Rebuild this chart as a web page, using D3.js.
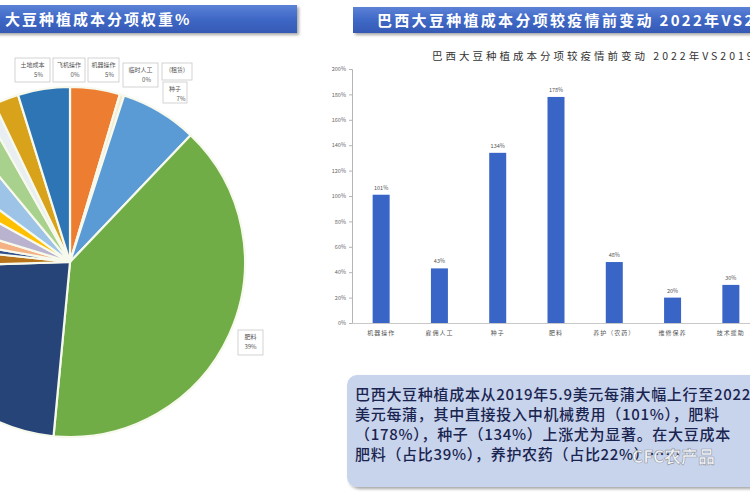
<!DOCTYPE html>
<html><head><meta charset="utf-8">
<script src="https://cdn.jsdelivr.net/npm/d3@7"></script>
<style>
body{margin:0;background:#fff;}
svg{display:block;}
text{font-family:"Noto Sans CJK SC","Noto Sans",sans-serif;}
</style></head>
<body>
<svg id="c" width="750" height="500"></svg>
<script>
// ---------- data ----------
const pieNames  = ["机器操作","临时人工","种子","肥料","养护农药","折旧","保险","运输","技术援助","维修保养","税费","仓储","飞机操作","其他","土地成本"];
const pieValues = [4.6,0.4,7.1,39.4,23.0,2.2,1.1,1.9,3.3,2.1,3.9,2.8,1.1,2.3,4.8];
const pieColors = ["#ED7D31","#F3EAD0","#5B9BD5","#70AD47","#264478","#B8741A","#2F4F8F","#F4B183","#B9B3CF","#FFC000","#9DC3E6","#A9D18E","#E8EEF2","#D9A21B","#2E75B6"];

const barCats   = ["机器操作","雇佣人工","种子","肥料","养护（农药）","维修保养","技术援助"];
const barValues = [101,43,134,178,48,20,30];
const barTicks  = [0,20,40,60,80,100,120,140,160,180,200];

const pieCallouts = [
  {t1:"土地成本", t2:"5%"},
  {t1:"飞机操作", t2:"0%"},
  {t1:"机器操作", t2:"5%"},
  {t1:"临时人工", t2:"0%"},
  {t1:"(租赁)",   t2:""},
  {t1:"种子",     t2:"7%"},
  {t1:"肥料",     t2:"39%"}
];
const noteLines = [
  "巴西大豆种植成本从2019年5.9美元每蒲大幅上行至2022年10.6",
  "美元每蒲，其中直接投入中机械费用（101%），肥料",
  "（178%），种子（134%）上涨尤为显著。在大豆成本",
  "肥料（占比39%），养护农药（占比22%）……"
];

const svg = d3.select("#c");
const defs = svg.append("defs");
const f = defs.append("filter").attr("id","sh").attr("x","-5%").attr("y","-20%").attr("width","115%").attr("height","160%");
f.append("feDropShadow").attr("dx",2).attr("dy",2).attr("stdDeviation",1.5).attr("flood-color","#000").attr("flood-opacity",0.35);
const g1 = defs.append("linearGradient").attr("id","hdr").attr("x1",0).attr("y1",0).attr("x2",0).attr("y2",1);
g1.append("stop").attr("offset","0%").attr("stop-color","#5b82d6");
g1.append("stop").attr("offset","50%").attr("stop-color","#3f68c6");
g1.append("stop").attr("offset","100%").attr("stop-color","#3559b4");

// ---------- headers ----------
svg.append("rect").attr("x",-5).attr("y",5).attr("width",302).attr("height",28).attr("fill","url(#hdr)").attr("filter","url(#sh)");
svg.append("text").attr("x",5).attr("y",25).attr("fill","#fff").attr("font-size",15).attr("font-weight","bold")
  .attr("letter-spacing",2).text("大豆种植成本分项权重%");
svg.append("rect").attr("x",353).attr("y",7).attr("width",410).attr("height",26).attr("fill","url(#hdr)").attr("filter","url(#sh)");
svg.append("text").attr("x",377).attr("y",26).attr("fill","#fff").attr("font-size",15).attr("font-weight","bold")
  .attr("letter-spacing",2.3).text("巴西大豆种植成本分项较疫情前变动 2022年VS2019年");

// ---------- pie ----------
const cx = 70, cy = 262, R = 175;
const pie = d3.pie().sort(null).value(d => d)(pieValues);
const arc = d3.arc().innerRadius(0).outerRadius(R);
const pg = svg.append("g").attr("transform",`translate(${cx},${cy})`);
pg.selectAll("path").data(pie).join("path")
  .attr("d",arc).attr("fill",(d,i)=>pieColors[i])
  .attr("stroke","#f6f9ec").attr("stroke-width",2.2).attr("stroke-linejoin","round");

// callout boxes
const boxPos = [[15,58,35,24],[53,58,32,24],[88,58,31,24],[123,63,35,24],[162,63,30,17],[163,82,24,21],[238,330,25,25]];
const cg = svg.append("g");
pieCallouts.forEach((c,i)=>{
  const [x,y,w,h] = boxPos[i];
  cg.append("rect").attr("x",x).attr("y",y).attr("width",w).attr("height",h)
    .attr("fill","#fff").attr("stroke","#c8c8c8").attr("stroke-width",0.8);
  cg.append("text").attr("x",x+w/2).attr("y",y+9).attr("text-anchor","middle")
    .attr("font-size",6).attr("fill","#555").text(c.t1);
  if(c.t2) cg.append("text").attr("x",x+w/2+(i<6?6:0)).attr("y",y+19).attr("text-anchor","middle")
    .attr("font-size",6).attr("fill","#555").text(c.t2);
});

// ---------- bar chart ----------
const x = d3.scaleBand().domain(barCats).range([352,760]);
const y = d3.scaleLinear().domain([0,200]).range([323,69]);
const bw = 17;

svg.append("text").attr("x",432).attr("y",60).attr("font-size",10.5).attr("fill","#333")
  .attr("letter-spacing",3).text("巴西大豆种植成本分项较疫情前变动   2022年VS2019年");

const yAxis = d3.axisLeft(y).tickValues(barTicks).tickFormat(d=>d+"%").tickSize(3);
const ya = svg.append("g").attr("transform","translate(352,0)").call(yAxis);
ya.select(".domain").attr("stroke","#b5b5b5");
ya.selectAll(".tick line").attr("stroke","#b5b5b5");
ya.selectAll("text").attr("font-size",5.5).attr("fill","#666");

const xAxis = d3.axisBottom(x).tickSize(0).tickPadding(8);
const xa = svg.append("g").attr("transform","translate(0,323)").call(xAxis);
xa.select(".domain").attr("stroke","#c8c8c8");
xa.selectAll("text").attr("font-size",6).attr("fill","#555").attr("letter-spacing",1);

svg.append("g").selectAll("rect").data(barValues).join("rect")
  .attr("x",(d,i)=>x(barCats[i])+x.bandwidth()/2-bw/2)
  .attr("y",d=>y(d)).attr("width",bw).attr("height",d=>y(0)-y(d))
  .attr("fill","#3966c6");
svg.append("g").selectAll("text").data(barValues).join("text")
  .attr("x",(d,i)=>x(barCats[i])+x.bandwidth()/2).attr("y",d=>y(d)-5)
  .attr("text-anchor","middle").attr("font-size",5.5).attr("fill","#555").text(d=>d+"%");

// ---------- note box ----------
svg.append("rect").attr("x",347).attr("y",375).attr("width",420).attr("height",112).attr("rx",10)
  .attr("fill","#c8d4ec").attr("filter","url(#sh)");
const nt = svg.append("g");
noteLines.forEach((s,i)=>{
  nt.append("text").attr("x",355).attr("y",400+i*20).attr("font-size",15).attr("font-weight",500).attr("fill","#1a2450")
    .attr("letter-spacing",0.7).text(s);
});
// watermark
svg.append("text").attr("x",632).attr("y",463).attr("font-size",17).attr("font-weight","bold")
  .attr("fill","#ffffff").attr("fill-opacity",0.75).attr("stroke","#555").attr("stroke-width",0.6)
  .attr("stroke-opacity",0.6).text("CFC农产品");
</script>
</body></html>
